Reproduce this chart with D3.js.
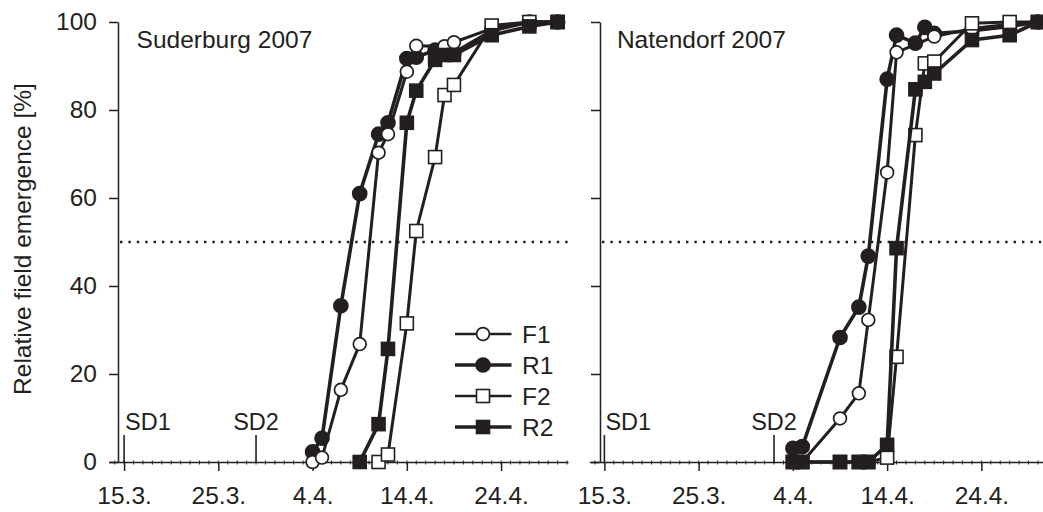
<!DOCTYPE html>
<html>
<head>
<meta charset="utf-8">
<script src="https://cdn.jsdelivr.net/npm/d3@7"></script>
<style>
  body { margin: 0; background: #fff; }
  svg { display: block; }
</style>
</head>
<body>
<svg id="chart" width="1043" height="512"></svg>
<script>
// Days counted from 15 March 2007; values are cumulative field emergence in %.
const xTickDays = [0, 10, 20, 30, 40];
const xTickLabels = ["15.3.", "25.3.", "4.4.", "14.4.", "24.4."];
const yTicks = [0, 20, 40, 60, 80, 100];
const seriesNames = ["F1", "R1", "F2", "R2"];
const halfLevel = 50;
const sdLabels = ["SD1", "SD2"];

// Suderburg 2007
const sudF1Days = [20, 21, 23, 25, 27, 28, 30, 31, 34, 35, 39, 43, 46];
const sudF1 = [0, 1, 16.4, 26.8, 70.3, 74.5, 88.7, 94.6, 94.5, 95.4, 98.5, 100, 100];
const sudR1Days = [20, 21, 23, 25, 27, 28, 30, 31, 33, 35, 39, 43, 46];
const sudR1 = [2.3, 5.4, 35.5, 61, 74.5, 77.1, 91.7, 92, 93.6, 93, 98, 100, 100];
const sudF2Days = [27, 28, 30, 31, 33, 34, 35, 39, 43, 46];
const sudF2 = [0, 1.7, 31.5, 52.5, 69.3, 83.4, 85.7, 99.2, 100, 100];
const sudR2Days = [25, 27, 28, 30, 31, 33, 34, 35, 39, 43, 46];
const sudR2 = [0, 8.6, 25.7, 77.1, 84.4, 91.4, 92.5, 92.5, 97, 99, 100];
const sudSowing = [0, 14];

// Natendorf 2007
const natF1Days = [20, 21, 25, 27, 28, 30, 31, 35, 39, 43, 46];
const natF1 = [0, 0, 9.9, 15.6, 32.3, 65.8, 93.1, 96.7, 98.5, 99.5, 100];
const natR1Days = [20, 21, 25, 27, 28, 30, 31, 33, 34, 35, 39, 43, 46];
const natR1 = [3.1, 3.5, 28.3, 35.2, 46.8, 87, 97, 95.2, 98.8, 97.4, 98, 99, 100];
const natF2Days = [20, 21, 25, 27, 28, 30, 31, 33, 34, 35, 39, 43, 46];
const natF2 = [0, 0, 0, 0, 0, 1, 23.9, 74.3, 90.6, 91, 99.7, 100, 100];
const natR2Days = [20, 21, 25, 27, 28, 30, 31, 33, 34, 35, 39, 43, 46];
const natR2 = [0, 0, 0, 0, 0, 3.9, 48.6, 84.7, 86.4, 88.3, 95.9, 97, 100];
const natSowing = [0, 18];

const ink = "#231f20";
const font = "'Liberation Sans', Arial, Helvetica, sans-serif";
const fs = 24.5;

const pair = (ds, vs) => ds.map((d, i) => ({ day: d, v: vs[i] }));

const panels = [
  {
    title: "Suderburg 2007",
    xRange: [109, 568], yAxisX: 118, showYLabels: true, legend: true,
    sowing: sudSowing,
    series: {
      F1: pair(sudF1Days, sudF1), R1: pair(sudR1Days, sudR1),
      F2: pair(sudF2Days, sudF2), R2: pair(sudR2Days, sudR2)
    }
  },
  {
    title: "Natendorf 2007",
    xRange: [589.3, 1048.3], yAxisX: 600, showYLabels: false, legend: false,
    sowing: natSowing,
    series: {
      F1: pair(natF1Days, natF1), R1: pair(natR1Days, natR1),
      F2: pair(natF2Days, natF2), R2: pair(natR2Days, natR2)
    }
  }
];

const styles = {
  F1: { shape: "circle", fill: "#fff", width: 3.0, legendWidth: 2.7 },
  R1: { shape: "circle", fill: ink, width: 3.6, legendWidth: 3.7 },
  F2: { shape: "square", fill: "#fff", width: 3.0, legendWidth: 2.7 },
  R2: { shape: "square", fill: ink, width: 3.6, legendWidth: 3.7 }
};
const drawOrder = ["R1", "F1", "F2", "R2"];

const svg = d3.select("#chart");
const y = d3.scaleLinear().domain([0, 100]).range([462, 22]);

function marker(g, name, cx, cy) {
  const s = styles[name];
  if (s.shape === "circle") {
    g.append("circle")
      .attr("cx", cx).attr("cy", cy)
      .attr("r", s.fill === ink ? 7 : 6.4)
      .attr("fill", s.fill).attr("stroke", ink).attr("stroke-width", 1.7);
  } else {
    const a = 13;
    g.append("rect")
      .attr("x", cx - a / 2).attr("y", cy - a / 2)
      .attr("width", a).attr("height", a)
      .attr("fill", s.fill).attr("stroke", ink).attr("stroke-width", 1.6);
  }
}

// Y-axis title
svg.append("text")
  .attr("transform", "translate(31,239) rotate(-90)")
  .attr("text-anchor", "middle")
  .attr("font-family", font).attr("font-size", fs).attr("fill", ink)
  .text("Relative field emergence [%]");

panels.forEach(p => {
  const x = d3.scaleLinear().domain([-1.6, 47.1]).range(p.xRange);
  const g = svg.append("g");

  // 50 % reference line
  g.append("line")
    .attr("x1", p.yAxisX + 2).attr("x2", p.xRange[1])
    .attr("y1", y(halfLevel)).attr("y2", y(halfLevel))
    .attr("stroke", ink).attr("stroke-width", 2.4)
    .attr("stroke-dasharray", "2.4 6");

  // y axis
  const yAxis = d3.axisLeft(y).tickValues(yTicks).tickSize(9).tickSizeOuter(0)
    .tickFormat(p.showYLabels ? d3.format("d") : () => "");
  const ya = g.append("g").attr("transform", `translate(${p.yAxisX},0)`).call(yAxis);
  ya.selectAll("path, line").attr("stroke", ink).attr("stroke-width", 1.5);
  ya.selectAll("text").attr("font-family", font).attr("font-size", fs)
    .attr("fill", ink).attr("x", -21);

  // x axis with daily minor ticks
  const xAxis = d3.axisBottom(x).tickValues(xTickDays).tickSize(9).tickSizeOuter(0)
    .tickFormat((d, i) => xTickLabels[i]);
  const xa = g.append("g").attr("transform", `translate(0,${y(0)})`).call(xAxis);
  xa.selectAll("path, line").attr("stroke", ink).attr("stroke-width", 1.5);
  xa.selectAll("text").attr("font-family", font).attr("font-size", fs)
    .attr("fill", ink).attr("dy", 0).attr("y", 42);
  xa.selectAll(".minor").data(d3.range(-1, 48)).enter().append("line")
    .attr("x1", d => x(d)).attr("x2", d => x(d))
    .attr("y1", -1.5).attr("y2", 2.5)
    .attr("stroke", ink).attr("stroke-width", 1);

  // sowing dates
  p.sowing.forEach((d, i) => {
    g.append("line")
      .attr("x1", x(d)).attr("x2", x(d))
      .attr("y1", y(0) - 27).attr("y2", y(0))
      .attr("stroke", ink).attr("stroke-width", 1.6);
    g.append("text")
      .attr("x", i === 0 ? x(d) + 1 : x(d))
      .attr("y", 430)
      .attr("text-anchor", i === 0 ? "start" : "middle")
      .attr("font-family", font).attr("font-size", 23.5).attr("fill", ink)
      .text(sdLabels[i]);
  });

  // panel title
  g.append("text")
    .attr("x", x(0) + 12.5).attr("y", 47.5)
    .attr("font-family", font).attr("font-size", fs).attr("fill", ink)
    .text(p.title);

  // emergence curves
  const line = d3.line().x(d => x(d.day)).y(d => y(d.v));
  drawOrder.forEach(name => {
    const data = p.series[name];
    const sg = g.append("g");
    sg.append("path").datum(data)
      .attr("d", line).attr("fill", "none")
      .attr("stroke", ink).attr("stroke-width", styles[name].width)
      .attr("stroke-linejoin", "round");
    data.forEach(d => marker(sg, name, x(d.day), y(d.v)));
  });

  // legend
  if (p.legend) {
    const lg = g.append("g");
    seriesNames.forEach((name, i) => {
      const ry = 334 + i * 31;
      lg.append("line")
        .attr("x1", 455).attr("x2", 511.5).attr("y1", ry).attr("y2", ry)
        .attr("stroke", ink).attr("stroke-width", styles[name].legendWidth);
      marker(lg, name, 483, ry);
      lg.append("text")
        .attr("x", 522).attr("y", ry).attr("dy", "0.36em")
        .attr("font-family", font).attr("font-size", fs).attr("fill", ink)
        .text(name);
    });
  }
});
</script>
</body>
</html>
